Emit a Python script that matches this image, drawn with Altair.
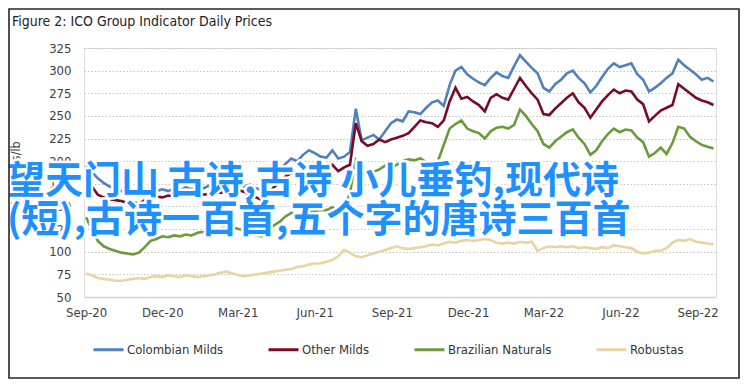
import altair as alt
import pandas as pd

# ---- data (weekly readings, US cents/lb) ----
start_date = "2020-09-01"
n_weeks = 108
series_names = ["Colombian Milds", "Other Milds", "Brazilian Naturals", "Robustas"]
series_colors = ["#4F81BD", "#7A0A2A", "#6A9A3A", "#EBD3A0"]

colombian = [195, 188, 181, 176, 172, 170, 167, 165, 163, 166, 168, 171, 167, 169, 167, 170, 168, 171, 169, 172,
             170, 173, 174, 176, 173, 177, 175, 172, 174, 170, 168, 175, 183, 191, 197, 203, 200, 207, 212, 209,
             205, 204, 212, 203, 205, 210, 258, 223, 226, 229, 224, 233, 242, 246, 244, 255, 254, 252, 259, 265,
             267, 261, 284, 300, 304, 296, 291, 287, 284, 292, 298, 294, 292, 305, 317, 310, 303, 297, 281, 277,
             285, 290, 297, 300, 292, 286, 276, 283, 293, 302, 308, 304, 306, 308, 296, 290, 277, 281, 286, 292,
             297, 312, 306, 301, 296, 290, 292, 288]
other_milds = [183, 172, 163, 160, 158, 157, 156, 154, 155, 153, 157, 159, 161, 160, 162, 161, 163, 162, 165, 165,
               163, 164, 166, 165, 168, 167, 168, 166, 162, 160, 157, 164, 171, 177, 183, 187, 186, 190, 191, 189,
               192, 194, 196, 189, 193, 196, 242, 222, 217, 219, 224, 221, 224, 226, 228, 231, 238, 245, 243, 242,
               238, 245, 266, 281, 269, 271, 266, 262, 255, 270, 274, 270, 268, 280, 292, 283, 275, 268, 252, 251,
               258, 264, 270, 275, 265, 259, 248, 257, 266, 273, 279, 275, 278, 277, 268, 263, 244, 250, 256, 259,
               262, 285, 280, 275, 270, 267, 265, 262]
brazilian = [138, 124, 112, 106, 103, 101, 99, 98, 97, 99, 105, 112, 114, 117, 116, 118, 117, 119, 118, 121,
             122, 124, 123, 126, 128, 127, 125, 124, 121, 118, 117, 123, 129, 133, 139, 143, 141, 140, 143, 145,
             146, 146, 149, 144, 147, 165, 201, 191, 187, 188, 191, 195, 193, 196, 200, 202, 201, 203, 199, 198,
             200, 218, 236, 241, 245, 236, 233, 231, 225, 233, 237, 238, 236, 240, 257, 250, 241, 233, 219, 215,
             222, 227, 232, 235, 226, 219, 207, 212, 222, 230, 236, 232, 235, 234, 226, 221, 205, 209, 215, 208,
             220, 238, 236, 227, 222, 218, 216, 214]
robustas = [76, 74, 71, 70, 69, 68, 68, 69, 70, 71, 70, 72, 73, 72, 74, 73, 72, 74, 73, 72,
            73, 74, 75, 77, 78, 76, 74, 73, 74, 75, 76, 77, 78, 79, 80, 81, 83, 84, 86, 87,
            87, 89, 91, 95, 102, 99, 95, 94, 96, 98, 100, 102, 104, 106, 104, 103, 104, 105, 106, 108,
            107, 109, 111, 110, 112, 113, 112, 113, 114, 113, 110, 109, 110, 109, 111, 110, 111, 101, 104, 106,
            105, 106, 105, 106, 104, 105, 104, 103, 105, 104, 107, 106, 105, 104, 100, 98, 99, 101, 101, 104,
            110, 113, 112, 114, 111, 110, 109, 108]

y_ticks = [50, 75, 100, 125, 150, 175, 200, 225, 250, 275, 300, 325]
x_tick_months = [(2020, 9), (2020, 12), (2021, 3), (2021, 6), (2021, 9),
                 (2021, 12), (2022, 3), (2022, 6), (2022, 9)]

title_text = "Figure 2: ICO Group Indicator Daily Prices"
y_title = "US cents/lb"
overlay_text = "望天门山 古诗,古诗 小儿垂钓,现代诗\n(短),古诗一百首,五个字的唐诗三百首"

# ---- build table ----
dates = pd.date_range(start_date, periods=n_weeks, freq="7D")
frames = []
for name, vals in zip(series_names, [colombian, other_milds, brazilian, robustas]):
    frames.append(pd.DataFrame({"date": dates, "price": vals, "series": name}))
df = pd.concat(frames, ignore_index=True)

FONT = "DejaVu Sans Condensed, DejaVu Sans, sans-serif"
CJK = "Noto Sans CJK SC"

W, H = 632, 249

lines = alt.Chart(df).mark_line(strokeWidth=2.6).encode(
    x=alt.X(
        "date:T",
        scale=alt.Scale(domain=[alt.DateTime(year=2020, month=8, date=29, hours=12),
                                alt.DateTime(year=2022, month=9, date=23)]),
        axis=alt.Axis(
            values=[alt.DateTime(year=y, month=m, date=1) for y, m in x_tick_months],
            format="%b-%y", title=None, grid=False, ticks=False,
            domainColor="#d4d4d4", domainWidth=1.6,
            labelPadding=9, labelFont=FONT, labelFontSize=13, labelColor="#404040",
        ),
    ),
    y=alt.Y(
        "price:Q",
        scale=alt.Scale(domain=[50, 325], nice=False, zero=False),
        axis=alt.Axis(
            values=y_ticks, title=y_title, domain=False, ticks=False,
            gridDash=[1.5, 2], gridColor="#c4c4c4", gridWidth=1.2,
            labelPadding=13, labelFont=FONT, labelFontSize=13, labelColor="#404040",
            titleFont=FONT, titleFontSize=12.5, titleFontWeight="normal", titleColor="#404040",
            titleAngle=-90, titleX=-69, titleY=H / 2, titleAlign="center", titleBaseline="middle",
        ),
    ),
    color=alt.Color(
        "series:N",
        sort=series_names,
        scale=alt.Scale(domain=series_names, range=series_colors),
        legend=alt.Legend(
            title=None, orient="none", direction="horizontal",
            legendX=8, legendY=285,
            symbolType="stroke", symbolSize=900, symbolStrokeWidth=3,
            labelFont=FONT, labelFontSize=13, labelColor="#333333",
            labelOffset=2, columnPadding=38,
        ),
    ),
)

txt_df = pd.DataFrame({"t": [overlay_text]})
halo = alt.Chart(txt_df).mark_text(
    align="left", baseline="alphabetic", font=CJK, fontSize=38, fontWeight="bold",
    lineBreak="\n", lineHeight=39, stroke="white", strokeWidth=5, strokeJoin="round",
    fill="white",
).encode(text="t:N", x=alt.value(-77), y=alt.value(145))
fill_txt = alt.Chart(txt_df).mark_text(
    align="left", baseline="alphabetic", font=CJK, fontSize=38, fontWeight="bold",
    lineBreak="\n", lineHeight=39, fill="#1E90FF",
).encode(text="t:N", x=alt.value(-77), y=alt.value(145))

title_df = pd.DataFrame({"t": [title_text]})
title = alt.Chart(title_df).mark_text(
    align="left", baseline="alphabetic", font=FONT, fontSize=14, color="#222222",
).encode(text="t:N", x=alt.value(-72), y=alt.value(-22))

border = alt.Chart(pd.DataFrame({"a": [0]})).mark_rect(
    fill="transparent", stroke="#262626", strokeWidth=1.6,
).encode(x=alt.value(-75), x2=alt.value(655), y=alt.value(-39), y2=alt.value(330))

chart = alt.layer(lines, halo, fill_txt, title, border).properties(
    width=W, height=H,
    autosize=alt.AutoSizeParams(type="none"),
    padding={"left": 76, "top": 40, "right": 24, "bottom": 82},
).configure_view(stroke=None).configure(background="white")

chart.save("out.html", embed_options={"renderer": "svg", "actions": False})
